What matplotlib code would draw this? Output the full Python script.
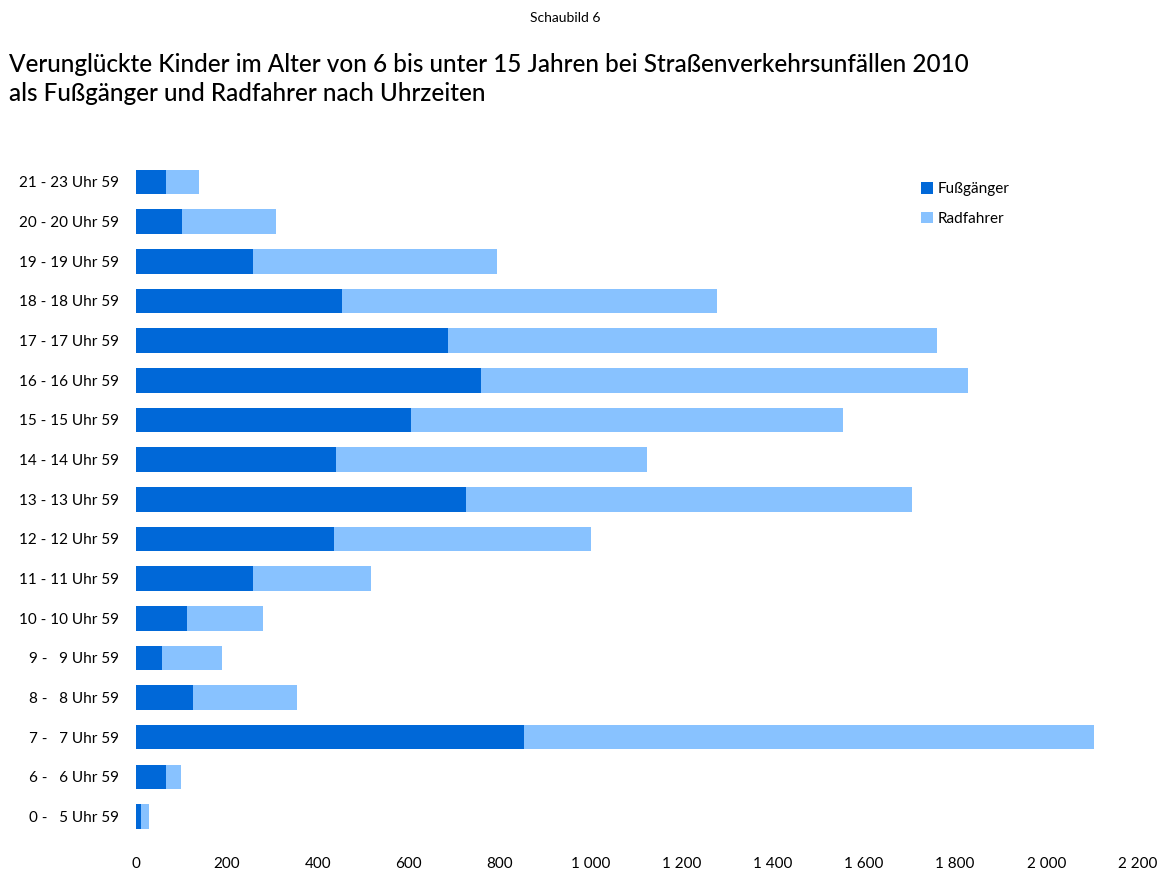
import matplotlib
matplotlib.use('Agg')
import matplotlib.pyplot as plt
import numpy as np

plt.rcParams['font.family'] = ['Lato', 'DejaVu Sans']

# Kategorien von unten nach oben
uhrzeiten = ['0 -   5 Uhr 59', '6 -   6 Uhr 59', '7 -   7 Uhr 59', '8 -   8 Uhr 59',
             '9 -   9 Uhr 59', '10 - 10 Uhr 59', '11 - 11 Uhr 59', '12 - 12 Uhr 59',
             '13 - 13 Uhr 59', '14 - 14 Uhr 59', '15 - 15 Uhr 59', '16 - 16 Uhr 59',
             '17 - 17 Uhr 59', '18 - 18 Uhr 59', '19 - 19 Uhr 59', '20 - 20 Uhr 59',
             '21 - 23 Uhr 59']
fussgaenger = [11, 66, 853, 125, 57, 112, 257, 435, 725, 440, 604, 758, 686, 453, 257, 101, 66]
radfahrer = [18, 33, 1252, 229, 132, 167, 259, 565, 980, 683, 950, 1071, 1074, 824, 536, 207, 72]
x_ticks = [0, 200, 400, 600, 800, 1000, 1200, 1400, 1600, 1800, 2000, 2200]

dunkel = '#0068d8'
hell = '#88c2ff'

fig = plt.figure(figsize=(11.7, 8.69), dpi=100)
ax = fig.add_axes([0.116, 0.033, 0.856, 0.785])

y = np.arange(len(uhrzeiten))
ax.barh(y, fussgaenger, height=0.62, color=dunkel, label='Fußgänger')
ax.barh(y, radfahrer, left=fussgaenger, height=0.62, color=hell, label='Radfahrer')

ax.set_ylim(-0.6, len(uhrzeiten) - 0.4)
ax.set_xlim(0, 2200)
ax.set_yticks(y)
ax.set_yticklabels(uhrzeiten, fontsize=11)
ax.set_xticks(x_ticks)
ax.set_xticklabels([f'{v:,}'.replace(',', ' ') for v in x_ticks], fontsize=11)
ax.tick_params(length=0, axis='y', pad=12)
ax.tick_params(length=0, axis='x', pad=12)
for s in ax.spines.values():
    s.set_visible(False)

ax.legend(loc='upper left', bbox_to_anchor=(0.77, 0.985), frameon=False, fontsize=11,
          handlelength=0.8, handleheight=0.8, handletextpad=0.3, labelspacing=1.0)

fig.text(0.483, 0.979, 'Schaubild 6', ha='center', va='center', fontsize=10)
fig.text(0.008, 0.909, 'Verunglückte Kinder im Alter von 6 bis unter 15 Jahren bei Straßenverkehrsunfällen 2010\n'
         'als Fußgänger und Radfahrer nach Uhrzeiten', ha='left', va='center', fontsize=17.5,
         fontweight='medium', linespacing=1.3)

fig.savefig('out.png', dpi=100)
